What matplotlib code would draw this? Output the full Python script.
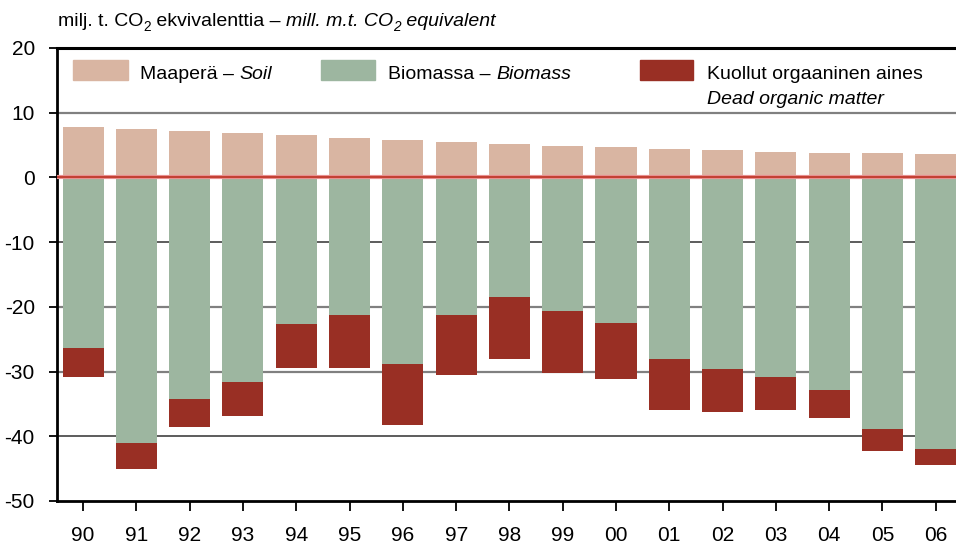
import matplotlib
matplotlib.use("Agg")
import matplotlib.pyplot as plt
from matplotlib.patches import Rectangle
import numpy as np

years = ["90", "91", "92", "93", "94", "95", "96", "97", "98", "99",
         "00", "01", "02", "03", "04", "05", "06"]
soil = [7.75, 7.45, 7.15, 6.8, 6.5, 6.05, 5.75, 5.45, 5.15, 4.85,
        4.7, 4.35, 4.2, 3.9, 3.75, 3.75, 3.6]
biomass = [-26.3, -41.0, -34.2, -31.6, -22.6, -21.25, -28.8, -21.25, -18.5, -20.6,
           -22.5, -28.0, -29.6, -30.8, -32.9, -38.8, -41.9]
dead = [-4.6, -4.1, -4.4, -5.3, -6.8, -8.15, -9.4, -9.35, -9.5, -9.55,
        -8.7, -7.9, -6.7, -5.2, -4.2, -3.55, -2.6]
yticks = [20, 10, 0, -10, -20, -30, -40, -50]

FONT = ["Liberation Sans", "DejaVu Sans"]
plt.rcParams["font.family"] = FONT

c_soil = "#d9b5a2"
c_bio = "#9db6a0"
c_dead = "#992f24"

fig = plt.figure(figsize=(9.56, 5.47), dpi=100)
ax = fig.add_axes([57 / 956, 1 - 501 / 547, 1 - 57 / 956, 453 / 547])

x = np.arange(len(years))
w = 0.77
ax.bar(x, soil, w, color=c_soil, zorder=2)
ax.bar(x, biomass, w, color=c_bio, zorder=2)
ax.bar(x, dead, w, bottom=biomass, color=c_dead, zorder=2)

ax.set_xlim(-0.49, 16.38)
ax.set_ylim(-50, 20)

for v, col, lw in [(10, "#808080", 1.6), (-10, "#303030", 1.1), (-20, "#808080", 1.6),
                   (-30, "#808080", 1.6), (-40, "#303030", 1.1)]:
    ax.axhline(v, color=col, lw=lw, zorder=1)
ax.axhline(0, color="#e89090", lw=3.0, zorder=3)
ax.axhline(0, color="#c0392b", lw=1.3, zorder=4)

ax.spines["right"].set_visible(False)
ax.spines["top"].set_linewidth(2.2)
ax.spines["left"].set_linewidth(2.0)
ax.spines["bottom"].set_linewidth(2.0)

ax.set_yticks(yticks)
ax.set_yticklabels([str(v) for v in yticks])
ax.set_xticks(x)
ax.set_xticklabels(years)
ax.tick_params(axis="y", length=6, width=1.3, pad=10, labelsize=15)
ax.tick_params(axis="x", length=7, width=1.3, pad=11, labelsize=15)

renderer = fig.canvas.get_renderer()


def rich_text(x0_px, y_px, pieces, size):
    """pieces: list of (text, italic, subscript); positions in figure pixels."""
    W, H = fig.bbox.width, fig.bbox.height
    xc = x0_px
    for txt, ital, sub in pieces:
        fs = size * 0.7 if sub else size
        yy = y_px + (size * 0.35 if sub else 0)
        t = fig.text(xc / W, 1 - yy / H, txt, fontsize=fs,
                     style="italic" if ital else "normal",
                     va="baseline", ha="left")
        bb = t.get_window_extent(renderer)
        xc += bb.width


def px2x(px):
    return (px - 83) / 53.3


legend_patches = [(72.7, 127.7, c_soil), (321, 375, c_bio), (640, 693, c_dead)]
for x0, x1, col in legend_patches:
    ax.add_patch(Rectangle((px2x(x0), 15.0), px2x(x1) - px2x(x0), 3.1,
                           color=col, zorder=5))

rich_text(140, 79, [("Maaperä – ", False, False), ("Soil", True, False)], 14)
rich_text(388, 79, [("Biomassa – ", False, False), ("Biomass", True, False)], 14)
rich_text(707, 79, [("Kuollut orgaaninen aines", False, False)], 14)
rich_text(707, 104, [("Dead organic matter", True, False)], 14)

rich_text(58, 26, [("milj. t. CO", False, False), ("2", False, True),
                   (" ekvivalenttia – ", False, False),
                   ("mill. m.t. CO", True, False), ("2", True, True),
                   (" equivalent", True, False)], 14)

fig.savefig("out.png", dpi=100)
